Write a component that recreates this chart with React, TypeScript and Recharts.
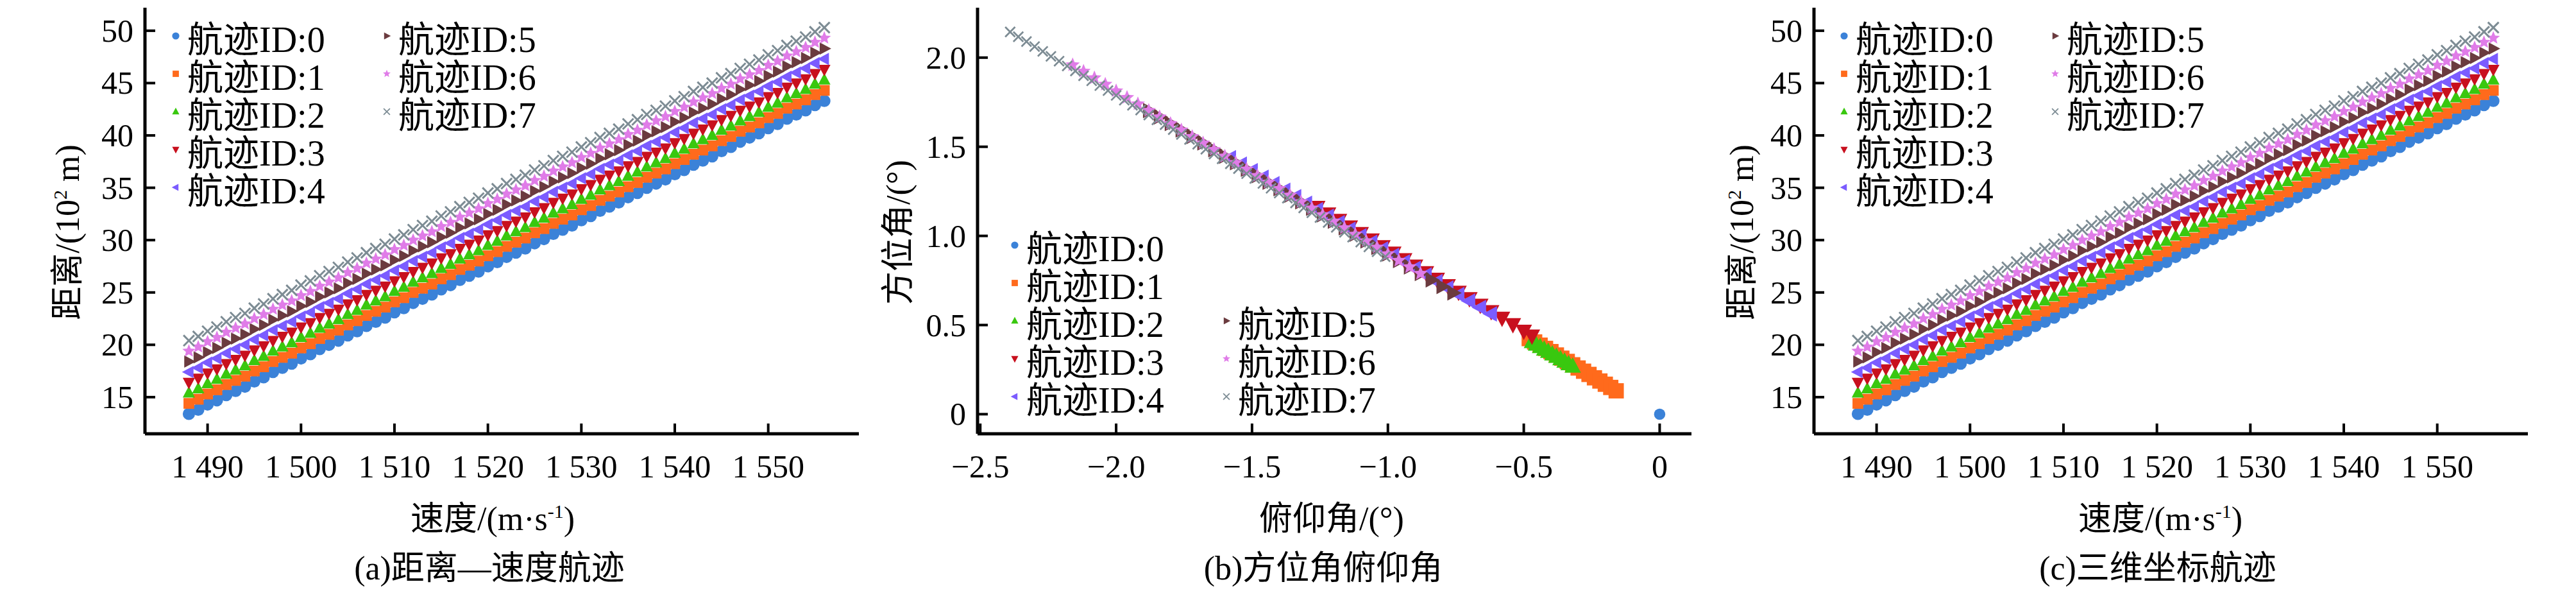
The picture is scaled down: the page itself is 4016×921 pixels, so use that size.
import React from "react";
import { ScatterChart, Scatter, XAxis, YAxis } from "recharts";

const trackIds = ["航迹ID:0", "航迹ID:1", "航迹ID:2", "航迹ID:3", "航迹ID:4", "航迹ID:5", "航迹ID:6", "航迹ID:7"];
const colors = ["#3b82d8", "#ff6a1c", "#39c80f", "#c8101e", "#7b5cff", "#6b3b3f", "#e07ce8", "#7d8c94"];
const kinds = ["circle", "square", "up", "down", "left", "right", "star", "x"];

// panel (a)/(c): speed (m/s) vs distance (10^2 m)
const speeds = [1488, 1489, 1490, 1491, 1492, 1493, 1494, 1495, 1496, 1497, 1498, 1499, 1500, 1501, 1502, 1503, 1504, 1505, 1506, 1507, 1508, 1509, 1510, 1511, 1512, 1513, 1514, 1515, 1516, 1517, 1518, 1519, 1520, 1521, 1522, 1523, 1524, 1525, 1526, 1527, 1528, 1529, 1530, 1531, 1532, 1533, 1534, 1535, 1536, 1537, 1538, 1539, 1540, 1541, 1542, 1543, 1544, 1545, 1546, 1547, 1548, 1549, 1550, 1551, 1552, 1553, 1554, 1555, 1556];
const dist0 = [13.4, 13.8, 14.3, 14.7, 15.2, 15.6, 16.0, 16.5, 16.9, 17.4, 17.8, 18.2, 18.7, 19.1, 19.6, 20.0, 20.4, 20.9, 21.3, 21.8, 22.2, 22.6, 23.1, 23.5, 24.0, 24.4, 24.8, 25.3, 25.7, 26.2, 26.6, 27.0, 27.5, 27.9, 28.4, 28.8, 29.2, 29.7, 30.1, 30.6, 31.0, 31.4, 31.9, 32.3, 32.8, 33.2, 33.6, 34.1, 34.5, 35.0, 35.4, 35.8, 36.3, 36.7, 37.2, 37.6, 38.0, 38.5, 38.9, 39.4, 39.8, 40.2, 40.7, 41.1, 41.6, 42.0, 42.4, 42.9, 43.3];
const dist1 = [14.4, 14.8, 15.3, 15.7, 16.2, 16.6, 17.0, 17.5, 17.9, 18.4, 18.8, 19.2, 19.7, 20.1, 20.6, 21.0, 21.4, 21.9, 22.3, 22.8, 23.2, 23.6, 24.1, 24.5, 25.0, 25.4, 25.8, 26.3, 26.7, 27.2, 27.6, 28.0, 28.5, 28.9, 29.4, 29.8, 30.2, 30.7, 31.1, 31.6, 32.0, 32.4, 32.9, 33.3, 33.8, 34.2, 34.6, 35.1, 35.5, 36.0, 36.4, 36.8, 37.3, 37.7, 38.2, 38.6, 39.0, 39.5, 39.9, 40.4, 40.8, 41.2, 41.7, 42.1, 42.6, 43.0, 43.4, 43.9, 44.3];
const dist2 = [15.4, 15.8, 16.3, 16.7, 17.2, 17.6, 18.0, 18.5, 18.9, 19.4, 19.8, 20.2, 20.7, 21.1, 21.6, 22.0, 22.4, 22.9, 23.3, 23.8, 24.2, 24.6, 25.1, 25.5, 26.0, 26.4, 26.8, 27.3, 27.7, 28.2, 28.6, 29.0, 29.5, 29.9, 30.4, 30.8, 31.2, 31.7, 32.1, 32.6, 33.0, 33.4, 33.9, 34.3, 34.8, 35.2, 35.6, 36.1, 36.5, 37.0, 37.4, 37.8, 38.3, 38.7, 39.2, 39.6, 40.0, 40.5, 40.9, 41.4, 41.8, 42.2, 42.7, 43.1, 43.6, 44.0, 44.4, 44.9, 45.3];
const dist3 = [16.4, 16.8, 17.3, 17.7, 18.2, 18.6, 19.0, 19.5, 19.9, 20.4, 20.8, 21.2, 21.7, 22.1, 22.6, 23.0, 23.4, 23.9, 24.3, 24.8, 25.2, 25.6, 26.1, 26.5, 27.0, 27.4, 27.8, 28.3, 28.7, 29.2, 29.6, 30.0, 30.5, 30.9, 31.4, 31.8, 32.2, 32.7, 33.1, 33.6, 34.0, 34.4, 34.9, 35.3, 35.8, 36.2, 36.6, 37.1, 37.5, 38.0, 38.4, 38.8, 39.3, 39.7, 40.2, 40.6, 41.0, 41.5, 41.9, 42.4, 42.8, 43.2, 43.7, 44.1, 44.6, 45.0, 45.4, 45.9, 46.3];
const dist4 = [17.4, 17.8, 18.3, 18.7, 19.2, 19.6, 20.0, 20.5, 20.9, 21.4, 21.8, 22.2, 22.7, 23.1, 23.6, 24.0, 24.4, 24.9, 25.3, 25.8, 26.2, 26.6, 27.1, 27.5, 28.0, 28.4, 28.8, 29.3, 29.7, 30.2, 30.6, 31.0, 31.5, 31.9, 32.4, 32.8, 33.2, 33.7, 34.1, 34.6, 35.0, 35.4, 35.9, 36.3, 36.8, 37.2, 37.6, 38.1, 38.5, 39.0, 39.4, 39.8, 40.3, 40.7, 41.2, 41.6, 42.0, 42.5, 42.9, 43.4, 43.8, 44.2, 44.7, 45.1, 45.6, 46.0, 46.4, 46.9, 47.3];
const dist5 = [18.4, 18.8, 19.3, 19.7, 20.2, 20.6, 21.0, 21.5, 21.9, 22.4, 22.8, 23.2, 23.7, 24.1, 24.6, 25.0, 25.4, 25.9, 26.3, 26.8, 27.2, 27.6, 28.1, 28.5, 29.0, 29.4, 29.8, 30.3, 30.7, 31.2, 31.6, 32.0, 32.5, 32.9, 33.4, 33.8, 34.2, 34.7, 35.1, 35.6, 36.0, 36.4, 36.9, 37.3, 37.8, 38.2, 38.6, 39.1, 39.5, 40.0, 40.4, 40.8, 41.3, 41.7, 42.2, 42.6, 43.0, 43.5, 43.9, 44.4, 44.8, 45.2, 45.7, 46.1, 46.6, 47.0, 47.4, 47.9, 48.3];
const dist6 = [19.4, 19.8, 20.3, 20.7, 21.2, 21.6, 22.0, 22.5, 22.9, 23.4, 23.8, 24.2, 24.7, 25.1, 25.6, 26.0, 26.4, 26.9, 27.3, 27.8, 28.2, 28.6, 29.1, 29.5, 30.0, 30.4, 30.8, 31.3, 31.7, 32.2, 32.6, 33.0, 33.5, 33.9, 34.4, 34.8, 35.2, 35.7, 36.1, 36.6, 37.0, 37.4, 37.9, 38.3, 38.8, 39.2, 39.6, 40.1, 40.5, 41.0, 41.4, 41.8, 42.3, 42.7, 43.2, 43.6, 44.0, 44.5, 44.9, 45.4, 45.8, 46.2, 46.7, 47.1, 47.6, 48.0, 48.4, 48.9, 49.3];
const dist7 = [20.4, 20.8, 21.3, 21.7, 22.2, 22.6, 23.0, 23.5, 23.9, 24.4, 24.8, 25.2, 25.7, 26.1, 26.6, 27.0, 27.4, 27.9, 28.3, 28.8, 29.2, 29.6, 30.1, 30.5, 31.0, 31.4, 31.8, 32.3, 32.7, 33.2, 33.6, 34.0, 34.5, 34.9, 35.4, 35.8, 36.2, 36.7, 37.1, 37.6, 38.0, 38.4, 38.9, 39.3, 39.8, 40.2, 40.6, 41.1, 41.5, 42.0, 42.4, 42.8, 43.3, 43.7, 44.2, 44.6, 45.0, 45.5, 45.9, 46.4, 46.8, 47.2, 47.7, 48.1, 48.6, 49.0, 49.4, 49.9, 50.3];
const distances = [dist0, dist1, dist2, dist3, dist4, dist5, dist6, dist7];
const speedTicks = [1490, 1500, 1510, 1520, 1530, 1540, 1550];
const distTicks = [15, 20, 25, 30, 35, 40, 45, 50];

// panel (b): elevation (deg) vs azimuth (deg)
const elev0 = [0];
const azim0 = [0];
const elev1 = [-0.48, -0.46, -0.44, -0.42, -0.4, -0.38, -0.36, -0.34, -0.32, -0.3, -0.28, -0.26, -0.24, -0.22, -0.2, -0.18, -0.16];
const azim1 = [0.424, 0.405, 0.387, 0.369, 0.351, 0.332, 0.314, 0.296, 0.277, 0.259, 0.241, 0.223, 0.204, 0.186, 0.168, 0.15, 0.131];
const elev2 = [-0.47, -0.455, -0.44, -0.425, -0.41, -0.395, -0.38, -0.365, -0.35, -0.335, -0.32];
const azim2 = [0.405, 0.391, 0.377, 0.363, 0.35, 0.336, 0.322, 0.309, 0.295, 0.281, 0.267];
const elev3 = [-1.26, -1.22, -1.18, -1.14, -1.1, -1.06, -1.02, -0.98, -0.94, -0.9, -0.86, -0.82, -0.78, -0.74, -0.7, -0.66, -0.62, -0.58, -0.54, -0.5, -0.47];
const azim3 = [1.162, 1.125, 1.089, 1.052, 1.015, 0.979, 0.942, 0.906, 0.869, 0.833, 0.796, 0.759, 0.723, 0.686, 0.65, 0.613, 0.577, 0.54, 0.504, 0.467, 0.44];
const elev4 = [-1.58, -1.54, -1.5, -1.46, -1.42, -1.38, -1.34, -1.3, -1.26, -1.22, -1.18, -1.14, -1.1, -1.06, -1.02, -0.98, -0.94, -0.9, -0.86, -0.82, -0.78, -0.74, -0.7, -0.66, -0.62];
const azim4 = [1.439, 1.403, 1.366, 1.329, 1.293, 1.256, 1.22, 1.183, 1.147, 1.11, 1.074, 1.037, 1.0, 0.964, 0.927, 0.891, 0.854, 0.818, 0.781, 0.744, 0.708, 0.671, 0.635, 0.598, 0.562];
const elev5 = [-1.88, -1.84, -1.8, -1.76, -1.72, -1.68, -1.64, -1.6, -1.56, -1.52, -1.48, -1.44, -1.4, -1.36, -1.32, -1.28, -1.24, -1.2, -1.16, -1.12, -1.08, -1.04, -1.0, -0.96, -0.92, -0.88, -0.84, -0.8, -0.76];
const azim5 = [1.703, 1.667, 1.63, 1.594, 1.557, 1.521, 1.484, 1.447, 1.411, 1.374, 1.338, 1.301, 1.265, 1.228, 1.191, 1.155, 1.118, 1.082, 1.045, 1.009, 0.972, 0.936, 0.899, 0.862, 0.826, 0.789, 0.753, 0.716, 0.68];
const elev6 = [-2.16, -2.12, -2.08, -2.04, -2.0, -1.96, -1.92, -1.88, -1.84, -1.8, -1.76, -1.72, -1.68, -1.64, -1.6, -1.56, -1.52, -1.48, -1.44, -1.4, -1.36, -1.32, -1.28, -1.24, -1.2, -1.16, -1.12, -1.08, -1.04, -1.0, -0.96, -0.92, -0.88];
const azim6 = [1.959, 1.923, 1.886, 1.85, 1.813, 1.776, 1.74, 1.703, 1.667, 1.63, 1.594, 1.557, 1.521, 1.484, 1.447, 1.411, 1.374, 1.338, 1.301, 1.265, 1.228, 1.191, 1.155, 1.118, 1.082, 1.045, 1.009, 0.972, 0.936, 0.899, 0.862, 0.826, 0.789];
const elev7 = [-2.39, -2.36, -2.33, -2.3, -2.27, -2.24, -2.21, -2.18, -2.15, -2.12, -2.09, -2.06, -2.03, -2.0, -1.97, -1.94, -1.91, -1.88, -1.85, -1.82, -1.79, -1.76, -1.73, -1.7, -1.67, -1.64, -1.61, -1.58, -1.55, -1.52, -1.49, -1.46, -1.43, -1.4, -1.37, -1.34, -1.31, -1.28, -1.25, -1.22, -1.19, -1.16, -1.13, -1.1, -1.07, -1.04, -1.01];
const azim7 = [2.144, 2.117, 2.09, 2.062, 2.035, 2.007, 1.98, 1.953, 1.925, 1.898, 1.87, 1.843, 1.815, 1.788, 1.761, 1.733, 1.706, 1.678, 1.651, 1.624, 1.596, 1.569, 1.541, 1.514, 1.486, 1.459, 1.432, 1.404, 1.377, 1.349, 1.322, 1.294, 1.267, 1.24, 1.212, 1.185, 1.157, 1.13, 1.103, 1.075, 1.048, 1.02, 0.993, 0.965, 0.938, 0.911, 0.883];
const elevs = [elev0, elev1, elev2, elev3, elev4, elev5, elev6, elev7];
const azims = [azim0, azim1, azim2, azim3, azim4, azim5, azim6, azim7];
const elevTicks = [-2.5, -2, -1.5, -1, -0.5, 0];
const azimTicks = [0, 0.5, 1, 1.5, 2];

const FONT = '"Liberation Serif", "DejaVu Serif", "Noto Sans CJK SC", serif';
const PLOT_L = 200;
const PLOT_T = 12;
const PLOT_B = 676;

function Mark({ cx, cy, kind, color, s = 1 }: any) {
  if (cx == null || cy == null) return null;
  const t = `translate(${cx},${cy}) scale(${s})`;
  switch (kind) {
    case "circle":
      return <circle cx={cx} cy={cy} r={8 * s} fill={color} />;
    case "square":
      return <rect x={cx - 7 * s} y={cy - 7 * s} width={14 * s} height={14 * s} fill={color} />;
    case "up":
      return <path transform={t} d="M0,-9L8,6L-8,6Z" fill={color} />;
    case "down":
      return <path transform={t} d="M0,9L8,-6L-8,-6Z" fill={color} />;
    case "left":
      return <path transform={t} d="M-9,0L6,-8L6,8Z" fill={color} />;
    case "right":
      return <path transform={t} d="M9,0L-6,-8L-6,8Z" fill={color} />;
    case "star": {
      const pts: string[] = [];
      for (let i = 0; i < 10; i++) {
        const r = i % 2 === 0 ? 9 : 4;
        const a = -Math.PI / 2 + (i * Math.PI) / 5;
        pts.push(`${(r * Math.cos(a)).toFixed(2)},${(r * Math.sin(a)).toFixed(2)}`);
      }
      return <polygon transform={t} points={pts.join(" ")} fill={color} />;
    }
    default:
      return (
        <path transform={t} d="M-7,-7L7,7M-7,7L7,-7" stroke={color} strokeWidth={2.5} fill="none" />
      );
  }
}

function XTick({ x, payload, fmt }: any) {
  return (
    <g>
      <line x1={x} y1={PLOT_B} x2={x} y2={PLOT_B - 16} stroke="#000" strokeWidth={4} />
      <text x={x} y={PLOT_B + 68} textAnchor="middle" fontSize={50} fontFamily={FONT} fill="#000">
        {fmt(payload.value)}
      </text>
    </g>
  );
}

function YTick({ y, payload, fmt }: any) {
  return (
    <g>
      <line x1={PLOT_L} y1={y} x2={PLOT_L + 16} y2={y} stroke="#000" strokeWidth={4} />
      <text x={PLOT_L - 18} y={y + 17} textAnchor="end" fontSize={50} fontFamily={FONT} fill="#000">
        {fmt(payload.value)}
      </text>
    </g>
  );
}

const fmtSpeed = (v: number) => "1 " + String(v).slice(1);
const fmtInt = (v: number) => String(v);
const fmtSigned = (v: number) => (v === 0 ? "0" : "−" + Math.abs(v).toFixed(1));
const fmtDec = (v: number) => (v === 0 ? "0" : v.toFixed(1));

function Panel({ left, series, xDomain, yDomain, xTicks, yTicks, xFmt, yFmt, markScale }: any) {
  return (
    <div style={{ position: "absolute", left, top: 0 }}>
      <ScatterChart width={1400} height={921} margin={{ top: PLOT_T, right: 87, left: 100, bottom: 185 }}>
        <XAxis
          type="number"
          dataKey="x"
          domain={xDomain}
          ticks={xTicks}
          allowDataOverflow
          height={60}
          axisLine={{ stroke: "#000", strokeWidth: 5 }}
          tickLine={false}
          tick={<XTick fmt={xFmt} />}
        />
        <YAxis
          type="number"
          dataKey="y"
          domain={yDomain}
          ticks={yTicks}
          allowDataOverflow
          width={100}
          axisLine={{ stroke: "#000", strokeWidth: 5 }}
          tickLine={false}
          tick={<YTick fmt={yFmt} />}
        />
        {series.map((data: any, i: number) => (
          <Scatter
            key={i}
            data={data}
            isAnimationActive={false}
            shape={(p: any) => <Mark cx={p.cx} cy={p.cy} kind={kinds[i]} color={colors[i]} s={markScale[i]} />}
          />
        ))}
      </ScatterChart>
    </div>
  );
}

function Legend({ col1x, col2x, top, col2Start }: any) {
  return (
    <>
      {trackIds.map((id, i) => {
        const inCol2 = i >= 5;
        const row = inCol2 ? col2Start + i - 5 : i;
        const mx = inCol2 ? col2x : col1x;
        const cy = top + row * 59;
        return (
          <div key={id} style={{ position: "absolute", left: mx - 12, top: cy - 32, height: 64, display: "flex", alignItems: "center", whiteSpace: "nowrap" }}>
            <svg width={24} height={24} style={{ marginRight: 6 }}>
              <Mark cx={12} cy={12} kind={kinds[i]} color={colors[i]} s={0.7} />
            </svg>
            <span style={{ fontFamily: FONT, fontSize: 56, color: "#000" }}>{id}</span>
          </div>
        );
      })}
    </>
  );
}

function Txt({ x, y, children, rotate }: any) {
  return (
    <div
      style={{
        position: "absolute",
        left: x,
        top: y,
        transform: `translate(-50%,-50%)${rotate ? " rotate(-90deg)" : ""}`,
        whiteSpace: "nowrap",
        fontFamily: FONT,
        fontSize: 52,
        color: "#000",
      }}
    >
      {children}
    </div>
  );
}

const scaleAC = [1.2, 1.2, 1.2, 1.2, 1.2, 1.2, 1.2, 1.2];
const scaleB = [1.1, 1.7, 1.6, 1.6, 1.5, 1.5, 1.3, 1.1];

export default function App() {
  const distSeries = distances.map((d) => d.map((y, j) => ({ x: speeds[j], y })));
  const angleSeries = elevs.map((e, i) => e.map((x, j) => ({ x, y: azims[i][j] })));
  return (
    <div style={{ position: "absolute", left: 0, top: 0, width: 4016, height: 921, overflow: "hidden", background: "#fff" }}>
      <Panel left={226 - PLOT_L} series={distSeries} xDomain={[1483.3, 1559.7]} yDomain={[11.5, 52.2]} xTicks={speedTicks} yTicks={distTicks} xFmt={fmtSpeed} yFmt={fmtInt} markScale={scaleAC} />
      <Panel left={1524 - PLOT_L} series={angleSeries} xDomain={[-2.51, 0.117]} yDomain={[-0.11, 2.28]} xTicks={elevTicks} yTicks={azimTicks} xFmt={fmtSigned} yFmt={fmtDec} markScale={scaleB} />
      <Panel left={2828 - PLOT_L} series={distSeries} xDomain={[1483.3, 1559.7]} yDomain={[11.5, 52.2]} xTicks={speedTicks} yTicks={distTicks} xFmt={fmtSpeed} yFmt={fmtInt} markScale={scaleAC} />

      <Legend col1x={274} col2x={603} top={56} col2Start={0} />
      <Legend col1x={1582} col2x={1912} top={382} col2Start={2} />
      <Legend col1x={2875} col2x={3204} top={56} col2Start={0} />

      <Txt x={100} y={362} rotate>距离/(10<sup style={{ fontSize: 30 }}>2</sup> m)</Txt>
      <Txt x={768} y={803}>速度/(m·s<sup style={{ fontSize: 30 }}>-1</sup>)</Txt>
      <Txt x={763} y={880}>(a)距离—速度航迹</Txt>

      <Txt x={1395} y={362} rotate>方位角/(°)</Txt>
      <Txt x={2076} y={803}>俯仰角/(°)</Txt>
      <Txt x={2063} y={880}>(b)方位角俯仰角</Txt>

      <Txt x={2710} y={362} rotate>距离/(10<sup style={{ fontSize: 30 }}>2</sup> m)</Txt>
      <Txt x={3368} y={803}>速度/(m·s<sup style={{ fontSize: 30 }}>-1</sup>)</Txt>
      <Txt x={3364} y={880}>(c)三维坐标航迹</Txt>
    </div>
  );
}
